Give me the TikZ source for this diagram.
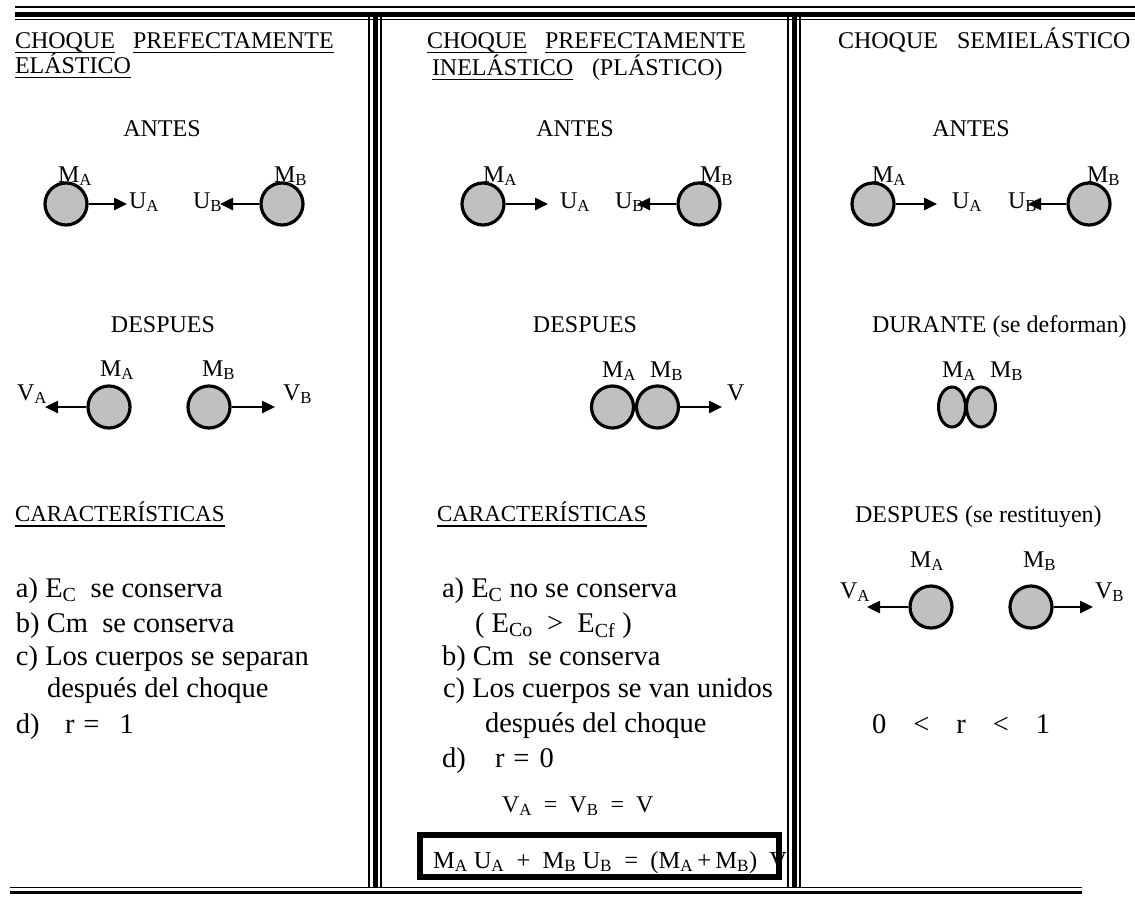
\documentclass[tikz,border=0pt]{standalone}
\usepackage{fontspec}
\setmainfont{Liberation Serif}
\usetikzlibrary{arrows.meta,shapes.geometric,calc}
\definecolor{ballgray}{HTML}{C0C0C0}
\tikzset{
  txt/.style={anchor=base west, inner sep=0pt, outer sep=0pt, font=\fontsize{24}{28}\selectfont},
  ctr/.style={anchor=base, inner sep=0pt, outer sep=0pt, font=\fontsize{24}{28}\selectfont},
  big/.style={anchor=base west, inner sep=0pt, outer sep=0pt, font=\fontsize{28.5}{34}\selectfont},
  ball/.style={circle, draw=black, fill=ballgray, line width=3.2pt, minimum size=42pt, inner sep=0pt},
  flat/.style={ellipse, draw=black, fill=ballgray, line width=3pt, minimum height=40pt, inner sep=0pt},
  vel/.style={line width=2.5pt, -{Triangle[length=13pt,width=12pt]}},
  uline/.style={line width=1.4pt},
  thinrule/.style={line width=1.5pt},
  thickrule/.style={line width=5pt},
}
\newcommand{\ls}[1]{\textsubscript{#1}}
\begin{document}
\begin{tikzpicture}[x=1pt,y=-1pt]
\useasboundingbox (0,0) rectangle (1135,897);
% ---------- rules ----------
\draw[thinrule] (15,7) -- (1135,7);
\draw[thickrule] (15,14) -- (1135,14);
\draw[line width=1.2pt] (15,19.5) -- (1135,19.5);
\foreach \xx in {369,788}{
  \draw[thinrule] (\xx,14) -- (\xx,888);
  \draw[thickrule] (\xx+6,14) -- (\xx+6,888);
  \draw[thinrule] (\xx+12,14) -- (\xx+12,888);
}
\draw[thinrule] (10,887.5) -- (1082,887.5);
\draw[line width=3.5pt] (10,892.5) -- (1082,892.5);

% ================= column 1 =================
\node[txt] (h1a) at (15,48) {CHOQUE};
\node[txt] (h1b) at (133,48) {PREFECTAMENTE};
\node[txt] (h1c) at (15,73) {ELÁSTICO};
\foreach \n in {h1a,h1b,h1c}{
  \draw[uline] ([yshift=-4.5pt]\n.base west) -- ([yshift=-4.5pt]\n.base east);
}
\node[ctr] (an1) at (162,136) {ANTES};
\node[txt] (ma1) at (58,182) {M\ls{A}};
\node[txt] (mb1) at (274,182) {M\ls{B}};
\node[txt] (ua1) at (129,208) {U\ls{A}};
\node[txt] (ub1) at (193,208) {U\ls{B}};
\node[ball] (a1) at (66,204) {};
\node[ball] (b1) at (282,204) {};
\coordinate (ta1) at (127,204);
\coordinate (tb1) at (220,204);
\draw[vel] (a1.east) -- (ta1);
\draw[vel] (b1.west) -- (tb1);

\node[ctr] (de1) at (163,332) {DESPUES};
\node[txt] (dma1) at (100,376) {M\ls{A}};
\node[txt] (dmb1) at (202,376) {M\ls{B}};
\node[txt] (va1) at (17,400) {V\ls{A}};
\node[txt] (vb1) at (283,400) {V\ls{B}};
\node[ball] (da1) at (109,407) {};
\node[ball] (db1) at (209,407) {};
\coordinate (tva1) at (45,407);
\coordinate (tvb1) at (275,407);
\draw[vel] (da1.west) -- (tva1);
\draw[vel] (db1.east) -- (tvb1);

\node[txt, font=\fontsize{23}{28}\selectfont] (car1) at (15,521) {CARACTERÍSTICAS};
\draw[uline] ([yshift=-5pt]car1.base west) -- ([yshift=-5pt]car1.base east);

\node[big] (l1a) at (16,597) {a) E\ls{C}\ \ se conserva};
\node[big] (l1b) at (16,632) {b) Cm\ \ se conserva};
\node[big] (l1c) at (16,665) {c) Los cuerpos se separan};
\node[big] (l1d) at (47,697) {después del choque};
\node[big] (l1e) at (16,733) {d)};
\node[big] (l1f) at (65,733) {r\hspace{9pt}=\hspace{20pt}1};

% ================= column 2 =================
\node[txt] (h2a) at (427,48) {CHOQUE};
\node[txt] (h2b) at (545,48) {PREFECTAMENTE};
\node[txt] (h2c) at (432,75) {INELÁSTICO};
\node[txt] (h2d) at (592,75) {(PLÁSTICO)};
\foreach \n in {h2a,h2b,h2c}{
  \draw[uline] ([yshift=-4.5pt]\n.base west) -- ([yshift=-4.5pt]\n.base east);
}
\node[ctr] (an2) at (575,136) {ANTES};
\node[txt] (ma2) at (483,182) {M\ls{A}};
\node[txt] (mb2) at (700,182) {M\ls{B}};
\node[txt] (ua2) at (560,208) {U\ls{A}};
\node[txt] (ub2) at (615,208) {U\ls{B}};
\node[ball] (a2) at (483,204) {};
\node[ball] (b2) at (699,204) {};
\coordinate (ta2) at (548,204);
\coordinate (tb2) at (637,204);
\draw[vel] (a2.east) -- (ta2);
\draw[vel] (b2.west) -- (tb2);

\node[ctr] (de2) at (585,332) {DESPUES};
\node[txt] (dma2) at (602,377) {M\ls{A}};
\node[txt] (dmb2) at (650,377) {M\ls{B}};
\node[txt] (v2) at (727,400) {V};
\node[ball] (da2) at (612.5,407) {};
\node[ball] (db2) at (657.5,407) {};
\coordinate (tv2) at (722,407);
\draw[vel] (db2.east) -- (tv2);

\node[txt, font=\fontsize{23}{28}\selectfont] (car2) at (437,521) {CARACTERÍSTICAS};
\draw[uline] ([yshift=-5pt]car2.base west) -- ([yshift=-5pt]car2.base east);

\node[big] (l2a) at (442,597) {a) E\ls{C} no se conserva};
\node[big] (l2b) at (475,632) {( E\ls{Co}\ \ >\ \ E\ls{Cf} )};
\node[big] (l2c) at (442,665) {b) Cm\ \ se conserva};
\node[big] (l2d) at (443,697) {c) Los cuerpos se van unidos};
\node[big] (l2e) at (485,732) {después del choque};
\node[big] (l2f) at (442,767) {d)};
\node[big] (l2g) at (495,767) {r\hspace{9pt}=\hspace{10pt}0};
\node[txt] (vv) at (502,812) {V\ls{A}\ \ =\ \ V\ls{B}\ \ =\ \ V};
\node[txt, font=\fontsize{24.5}{28}\selectfont] (eq) at (433,868)
  {M\ls{A} U\ls{A}\ \ +\ \ M\ls{B} U\ls{B}\ \ =\ \ (M\ls{A}\,+\,M\ls{B})\ \ V};
\node[draw=black, line width=6pt, minimum width=359pt, minimum height=42pt, inner sep=0pt] (eqbox) at (599.5,856) {};

% ================= column 3 =================
\node[txt] (h3a) at (838,48) {CHOQUE};
\node[txt] (h3b) at (957,48) {SEMIELÁSTICO};
\node[ctr] (an3) at (971,136) {ANTES};
\node[txt] (ma3) at (872,182) {M\ls{A}};
\node[txt] (mb3) at (1087,182) {M\ls{B}};
\node[txt] (ua3) at (952,208) {U\ls{A}};
\node[txt] (ub3) at (1008,208) {U\ls{B}};
\node[ball] (a3) at (873,204) {};
\node[ball] (b3) at (1089,204) {};
\coordinate (ta3) at (937,204);
\coordinate (tb3) at (1028,204);
\draw[vel] (a3.east) -- (ta3);
\draw[vel] (b3.west) -- (tb3);

\node[txt] (du3) at (872,332) {DURANTE (se deforman)};
\node[txt] (dma3) at (942,377) {M\ls{A}};
\node[txt] (dmb3) at (990,377) {M\ls{B}};
\node[flat, minimum width=27pt] (ea3) at (952,407) {};
\node[flat, minimum width=29pt] (eb3) at (981,407) {};

\node[txt] (de3) at (855,522) {DESPUES (se restituyen)};
\node[txt] (rma3) at (910,567) {M\ls{A}};
\node[txt] (rmb3) at (1023,567) {M\ls{B}};
\node[txt] (rva3) at (840,598) {V\ls{A}};
\node[txt] (rvb3) at (1095,598) {V\ls{B}};
\node[ball] (ra3) at (931,607) {};
\node[ball] (rb3) at (1031,607) {};
\coordinate (trva3) at (867,607);
\coordinate (trvb3) at (1093,607);
\draw[vel] (ra3.west) -- (trva3);
\draw[vel] (rb3.east) -- (trvb3);

\node[big] (rr3) at (872,733) {0\hspace{27pt}<\hspace{27pt}r\hspace{27pt}<\hspace{27pt}1};
\end{tikzpicture}
\end{document}
